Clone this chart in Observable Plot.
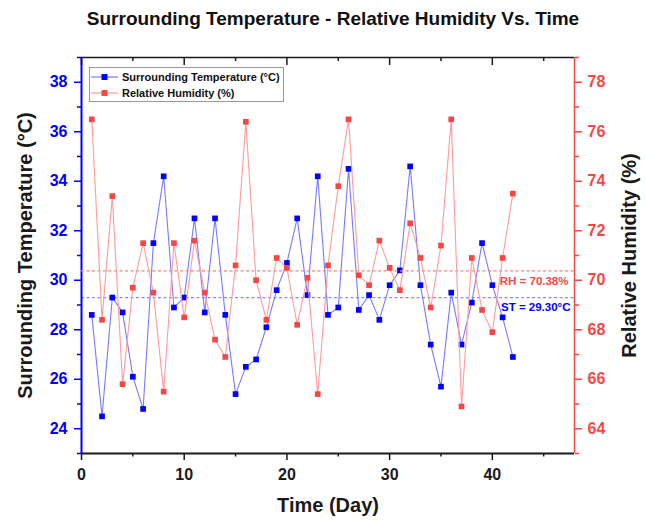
<!DOCTYPE html>
<html>
<head>
<meta charset="utf-8">
<script src="https://cdn.jsdelivr.net/npm/d3@7"></script>
<script src="https://cdn.jsdelivr.net/npm/@observablehq/plot@0.6"></script>
<style>
  body { margin: 0; background: #fff; font-family: "Liberation Sans", Arial, sans-serif; }
  #wrap { position: relative; width: 647px; height: 520px; overflow: hidden; }
  #title { height: 40px; box-sizing: border-box; padding-top: 9px; padding-left: 19px; text-align: center;
           font-size: 19px; line-height: 19px; font-weight: bold; color: #111; }
  #plots { position: relative; width: 647px; height: 480px; }
  #plots svg { position: absolute; left: 0; top: 0; }
  #legend { position: absolute; left: 89px; top: 67px; width: 195px; height: 35px; box-sizing: border-box;
            border: 1px solid #9a9a9a; background: #fff; }
  #legend .row { position: absolute; left: 0; height: 14px; display: flex; align-items: center; white-space: nowrap; }
  #legend svg { display: block; }
  #legend span { font-size: 11px; font-weight: bold; color: #111; margin-left: 2px; }
</style>
</head>
<body>
<div id="wrap">
  <div id="title"></div>
  <div id="plots"></div>
  <div id="legend"></div>
</div>
<script>
// ---- data ----
const chartTitle = "Surrounding Temperature - Relative Humidity Vs. Time";
const seriesNames = ["Surrounding Temperature (°C)", "Relative Humidity (%)"];
const xLabel = "Time (Day)";
const days = [1,2,3,4,5,6,7,8,9,10,11,12,13,14,15,16,17,18,19,20,21,22,23,24,25,26,27,28,29,30,31,32,33,34,35,36,37,38,39,40,41,42];
const temperature = [28.6,24.5,29.3,28.7,26.1,24.8,31.5,34.2,28.9,29.3,32.5,28.7,32.5,28.6,25.4,26.5,26.8,28.1,29.6,30.7,
                     32.5,29.4,34.2,28.6,28.9,34.5,28.8,29.4,28.4,29.8,30.4,34.6,29.8,27.4,25.7,29.5,27.4,29.1,31.5,29.8,28.5,26.9];
const humidity = [76.5,68.4,73.4,65.8,69.7,71.5,69.5,65.5,71.5,68.5,71.6,69.5,67.6,66.9,70.6,76.4,70.0,68.4,70.9,70.5,
                  68.2,70.1,65.4,70.6,73.8,76.5,70.2,69.8,71.6,70.5,69.6,72.3,70.9,68.9,71.4,76.5,64.9,70.9,68.8,67.9,70.9,73.5];
const tempMean = 29.30;
const humMean = 70.38;
const dayDomain = [0, 48];
const tempDomain = [23, 39];
const humDomain = [63, 79];
const xMajorTicks = [0,10,20,30,40];
const xMinorTicks = [5,15,25,35,45];
const tempMajorTicks = [24,26,28,30,32,34,36,38];
const tempMinorTicks = [23,25,27,29,31,33,35,37,39];
const humMajorTicks = [64,66,68,70,72,74,76,78];
const humMinorTicks = [63,65,67,69,71,73,75,77,79];

// ---- styles ----
const BLUE = "#0000ff", BLUE_LINE = "#7a7aff", BLUE_DASH = "#8a8aff";
const RED = "#f44848", RED_LINE = "#ff9c9c", RED_DASH = "#ff8080";
const INK = "#1a1a1a";
const W = 647, H = 480, mL = 81, mR = 73, mT = 17, mB = 67;
const plotH = H - mT - mB;
const font = "Liberation Sans, Arial, sans-serif";

const tempData = days.map((d, i) => ({day: d, value: temperature[i]}));
const humData = days.map((d, i) => ({day: d, value: humidity[i]}));

const common = {
  width: W, height: H, marginLeft: mL, marginRight: mR, marginTop: mT, marginBottom: mB,
  style: {background: "transparent", overflow: "visible", fontFamily: font}
};

const plotTemp = Plot.plot({
  ...common,
  x: {domain: dayDomain},
  y: {domain: tempDomain},
  marks: [
    Plot.ruleY([tempMean], {stroke: BLUE_DASH, strokeWidth: 1.2, strokeDasharray: "3,2.5"}),
    Plot.line(tempData, {x: "day", y: "value", stroke: BLUE_LINE, strokeWidth: 1.1}),
    Plot.dot(tempData, {x: "day", y: "value", symbol: "square", r: 3.2, fill: BLUE}),
    Plot.text([{v: tempMean, t: `ST = ${tempMean.toFixed(2)}°C`}], {y: "v", text: "t", frameAnchor: "right",
      textAnchor: "end", dx: -4, dy: 10, fill: BLUE, fontSize: 11.5, fontWeight: "bold"}),
    // frame edges
    Plot.ruleY([tempDomain[0]], {stroke: INK, strokeWidth: 2}),
    Plot.ruleY([tempDomain[1]], {stroke: INK, strokeWidth: 1.5}),
    Plot.ruleX([dayDomain[0]], {stroke: BLUE, strokeWidth: 2}),
    // left axis
    Plot.axisY({anchor: "left", ticks: tempMajorTicks, tickSize: 7, tickPadding: 7, label: null,
      color: BLUE, fontSize: 16, fontWeight: "bold", strokeWidth: 1.5}),
    Plot.axisY({anchor: "left", ticks: tempMinorTicks, tickSize: 4, tickFormat: () => "", label: null,
      color: BLUE, strokeWidth: 1.5}),
    // bottom axis
    Plot.axisX({anchor: "bottom", ticks: xMajorTicks, tickSize: 7, tickPadding: 8, label: null,
      color: INK, fontSize: 16, fontWeight: "bold", strokeWidth: 1.5}),
    Plot.axisX({anchor: "bottom", ticks: xMinorTicks, tickSize: 3.5, tickFormat: () => "", label: null,
      color: INK, strokeWidth: 1.5}),
    // top inward ticks
    Plot.tickX(xMajorTicks, {x: d => d, insetBottom: plotH - 8, stroke: INK, strokeWidth: 1.5}),
    Plot.tickX(xMinorTicks, {x: d => d, insetBottom: plotH - 4, stroke: INK, strokeWidth: 1.5}),
    // axis titles
    Plot.text([seriesNames[0]], {frameAnchor: "left", rotate: -90, dx: -56,
      textAnchor: "middle", lineAnchor: "middle", fontSize: 20, fontWeight: "bold", fill: INK}),
    Plot.text([xLabel], {frameAnchor: "bottom", dy: 52, textAnchor: "middle", lineAnchor: "middle",
      fontSize: 20, fontWeight: "bold", fill: INK})
  ]
});

const plotHum = Plot.plot({
  ...common,
  x: {domain: dayDomain, axis: null},
  y: {domain: humDomain, axis: null},
  marks: [
    Plot.ruleY([humMean], {stroke: RED_DASH, strokeWidth: 1.2, strokeDasharray: "3,2.5"}),
    Plot.line(humData, {x: "day", y: "value", stroke: RED_LINE, strokeWidth: 1.1}),
    Plot.dot(humData, {x: "day", y: "value", symbol: "square", r: 3.2, fill: RED}),
    Plot.text([{v: humMean, t: `RH = ${humMean.toFixed(2)}%`}], {y: "v", text: "t", frameAnchor: "right",
      textAnchor: "end", dx: -6, dy: 10, fill: RED, fontSize: 11.5, fontWeight: "bold"}),
    Plot.ruleX([dayDomain[1]], {stroke: RED, strokeWidth: 1.5}),
    Plot.axisY({anchor: "right", ticks: humMajorTicks, tickSize: 7, tickPadding: 6, label: null,
      color: RED, fontSize: 16, fontWeight: "bold", strokeWidth: 1.5}),
    Plot.axisY({anchor: "right", ticks: humMinorTicks, tickSize: 4, tickFormat: () => "", label: null,
      color: RED, strokeWidth: 1.5}),
    Plot.text([seriesNames[1]], {frameAnchor: "right", rotate: -90, dx: 55,
      textAnchor: "middle", lineAnchor: "middle", fontSize: 20, fontWeight: "bold", fill: INK})
  ]
});

document.getElementById("title").textContent = chartTitle;
const plots = document.getElementById("plots");
plots.appendChild(plotTemp);
plots.appendChild(plotHum);

// legend
const legend = document.getElementById("legend");
const legendItems = [
  {name: seriesNames[0], line: BLUE_LINE, fill: BLUE},
  {name: seriesNames[1], line: RED_LINE, fill: RED}
];
legendItems.forEach((item, i) => {
  const row = document.createElement("div");
  row.className = "row";
  row.style.top = (2 + i * 15.5) + "px";
  row.innerHTML = `<svg width="30" height="10"><line x1="1" x2="28" y1="5" y2="5" stroke="${item.line}" stroke-width="1.2"/>` +
    `<rect x="11.5" y="2" width="6" height="6" fill="${item.fill}"/></svg><span></span>`;
  row.querySelector("span").textContent = item.name;
  legend.appendChild(row);
});
</script>
</body>
</html>
